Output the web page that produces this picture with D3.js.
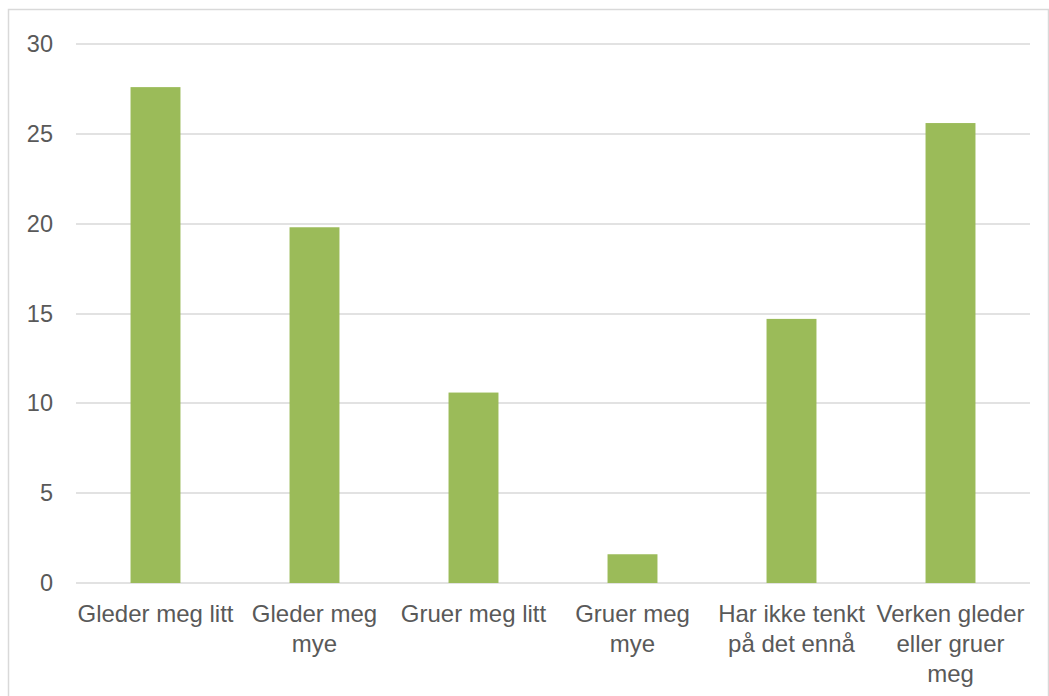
<!DOCTYPE html>
<html>
<head>
<meta charset="utf-8">
<script src="https://cdn.jsdelivr.net/npm/d3@7"></script>
<style>
  html, body { margin: 0; padding: 0; background: #fff; }
  svg { display: block; }
</style>
</head>
<body>
<svg id="chart" width="1049" height="696"></svg>
<script>
const categories = ["Gleder meg litt", "Gleder meg mye", "Gruer meg litt", "Gruer meg mye", "Har ikke tenkt på det ennå", "Verken gleder eller gruer meg"];
const categoryLabelLines = [["Gleder meg litt"], ["Gleder meg", "mye"], ["Gruer meg litt"], ["Gruer meg", "mye"], ["Har ikke tenkt", "på det ennå"], ["Verken gleder", "eller gruer", "meg"]];
const values = [27.6, 19.8, 10.6, 1.6, 14.7, 25.6];
const yTicks = [0, 5, 10, 15, 20, 25, 30];

const W = 1049, H = 696;
const margin = { left: 76, right: 19, top: 44, bottom: 113 };
const svg = d3.select("#chart");
const font = "'Liberation Sans', Arial, Helvetica, sans-serif";
const textColor = "#595959";
const gridColor = "#d9d9d9";

// outer frame
svg.append("rect")
  .attr("x", 8.5).attr("y", 9.5)
  .attr("width", 1040).attr("height", 720)
  .attr("fill", "none").attr("stroke", gridColor).attr("stroke-width", 1.5);

const x = d3.scaleBand().domain(categories)
  .range([margin.left, W - margin.right])
  .paddingInner(0.686).paddingOuter(0.343);
const y = d3.scaleLinear().domain([0, 30]).range([H - margin.bottom, margin.top]);

// gridlines
svg.append("g").selectAll("line").data(yTicks).join("line")
  .attr("x1", margin.left).attr("x2", W - margin.right)
  .attr("y1", d => Math.round(y(d))).attr("y2", d => Math.round(y(d)))
  .attr("stroke", gridColor).attr("stroke-width", 1.5);

// y axis labels
const yAxis = d3.axisLeft(y).tickValues(yTicks).tickSize(0).tickPadding(23);
const gy = svg.append("g").attr("transform", `translate(${margin.left},0)`).call(yAxis);
gy.select(".domain").remove();
gy.selectAll("text").attr("font-family", font).attr("font-size", 23.5).attr("fill", textColor);

// bars
svg.append("g").selectAll("rect").data(values).join("rect")
  .attr("x", (d, i) => x(categories[i]))
  .attr("width", x.bandwidth())
  .attr("y", d => y(d))
  .attr("height", d => y(0) - y(d))
  .attr("fill", "#9bbb59");

// x axis labels (wrapped lines)
const xAxis = d3.axisBottom(x).tickSize(0).tickPadding(0);
const gx = svg.append("g").attr("transform", `translate(0,${y(0)})`).call(xAxis);
gx.select(".domain").remove();
gx.selectAll("text")
  .attr("font-family", font).attr("font-size", 24).attr("fill", textColor)
  .each(function(d) {
    const t = d3.select(this);
    const lines = categoryLabelLines[categories.indexOf(d)];
    t.text(null).attr("dy", null).attr("y", 0);
    lines.forEach((ln, i) => {
      t.append("tspan").attr("x", 0).attr("y", 39 + i * 30).text(ln);
    });
  });
</script>
</body>
</html>
